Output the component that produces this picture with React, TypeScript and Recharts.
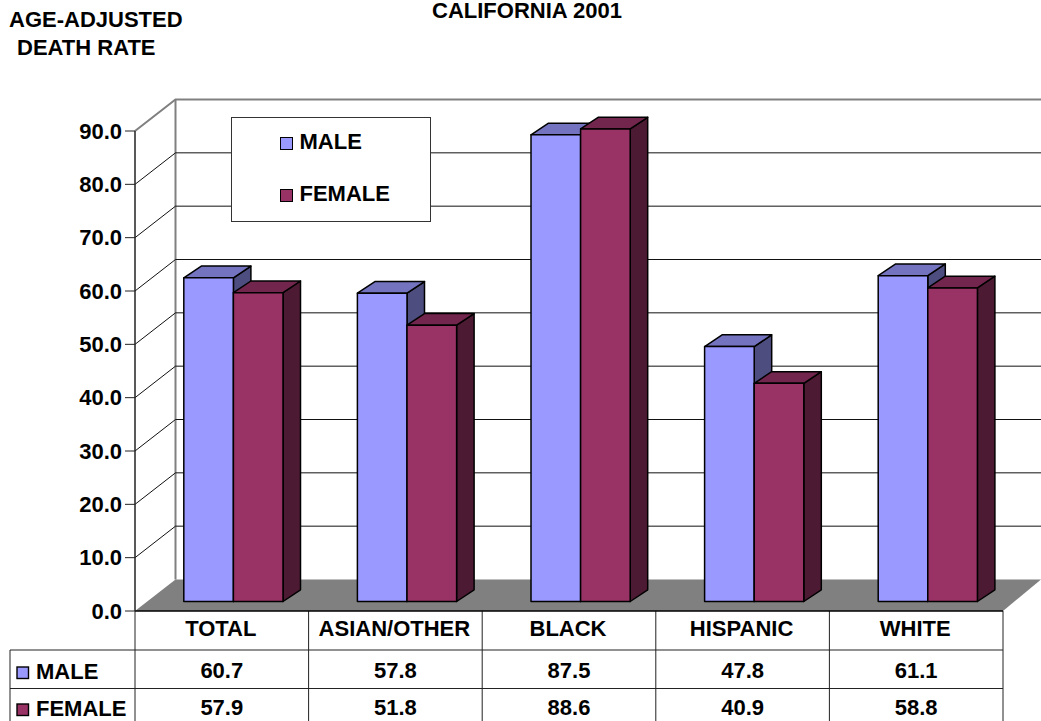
import React from "react";
import { BarChart, Bar, XAxis, YAxis, CartesianGrid, Legend } from "recharts";

const categories = ["TOTAL", "ASIAN/OTHER", "BLACK", "HISPANIC", "WHITE"];
const maleValues = [60.7, 57.8, 87.5, 47.8, 61.1];
const femaleValues = [57.9, 51.8, 88.6, 40.9, 58.8];
const yTicks = [0, 10, 20, 30, 40, 50, 60, 70, 80, 90];
const maleName = "MALE";
const femaleName = "FEMALE";
const titleText = "CALIFORNIA 2001";
const yTitleLines = ["AGE-ADJUSTED", "DEATH RATE"];

const data = categories.map((name, i) => ({ name, male: maleValues[i], female: femaleValues[i] }));

const W = 1041;
const H = 721;
const FONT = "'Liberation Sans', Arial, sans-serif";
const FS = 22;
const LEFT = 135;
const RIGHT = 1003;
const TOP = 131;
const BOTTOM = 611;
const WALL_DX = 40.5;
const WALL_DY = 31.5;
const BAR_DX = 11.8;
const BAR_DY = 9.5;
const DEPTH_X = 17.5;
const DEPTH_Y = 11.7;

const MALE = { front: "#9999FF", top: "#7373BF", side: "#4D4D80" };
const FEMALE = { front: "#993366", top: "#73264D", side: "#4D1A33" };

function Bar3D(props: any, c: typeof MALE) {
  const { x, y, width, height } = props;
  const l = x + BAR_DX;
  const r = l + width;
  const t = y - BAR_DY;
  const b = t + height;
  const common = { stroke: "#000", strokeWidth: 1.5, strokeLinejoin: "round" as const };
  return (
    <g>
      <polygon points={`${r},${t} ${r + DEPTH_X},${t - DEPTH_Y} ${r + DEPTH_X},${b - DEPTH_Y} ${r},${b}`} fill={c.side} {...common} />
      <polygon points={`${l},${t} ${l + DEPTH_X},${t - DEPTH_Y} ${r + DEPTH_X},${t - DEPTH_Y} ${r},${t}`} fill={c.top} {...common} />
      <rect x={l} y={t} width={width} height={height} fill={c.front} {...common} />
    </g>
  );
}

function WallLine(props: any) {
  const { y1 } = props;
  if (Math.abs(y1 - BOTTOM) < 1 || Math.abs(y1 - TOP) < 1) return <g />;
  return (
    <g stroke="#111" strokeWidth={1}>
      <line x1={LEFT} y1={y1} x2={LEFT + WALL_DX} y2={y1 - WALL_DY} />
      <line x1={LEFT + WALL_DX} y1={y1 - WALL_DY} x2={W} y2={y1 - WALL_DY} />
    </g>
  );
}

function CategoryTick(props: any) {
  const { x, y, index, payload } = props;
  const style = { fontFamily: FONT, fontSize: FS, fontWeight: 700, fill: "#000", textAnchor: "middle" as const };
  return (
    <g>
      <text x={x - 1} y={y + 19} style={style}>{payload.value}</text>
      <text x={x} y={y + 61} style={style}>{maleValues[index].toFixed(1)}</text>
      <text x={x} y={y + 98} style={style}>{femaleValues[index].toFixed(1)}</text>
    </g>
  );
}

function LegendBox(props: any) {
  const payload = props.payload || [];
  return (
    <div style={{ width: 200, height: 105, boxSizing: "border-box", border: "1px solid #333", background: "#fff", position: "relative" }}>
      {payload.map((e: any, i: number) => (
        <div key={e.value} style={{ position: "absolute", left: 48, top: 19 + i * 52, display: "flex", alignItems: "center", height: 13 }}>
          <span style={{ display: "inline-block", width: 11, height: 11, background: e.color, border: "1.5px solid #000", marginRight: 7 }} />
          <span style={{ fontFamily: FONT, fontSize: FS, fontWeight: 700, color: "#000", whiteSpace: "nowrap", position: "relative", top: -2 }}>{e.value}</span>
        </div>
      ))}
    </div>
  );
}

function Backdrop() {
  const step = (RIGHT - LEFT) / categories.length;
  const backL = LEFT + WALL_DX;
  const backB = BOTTOM - WALL_DY;
  const backT = TOP - WALL_DY;
  const labelStyle = { fontFamily: FONT, fontSize: FS, fontWeight: 700, fill: "#000" };
  return (
    <svg width={W} height={H} style={{ position: "absolute", left: 0, top: 0 }}>
      <rect width={W} height={H} fill="#fff" />
      <polygon points={`${LEFT},${BOTTOM} ${backL},${backB} ${W},${backB} ${RIGHT},${BOTTOM}`} fill="#808080" />
      <g stroke="#808080" strokeWidth={2} fill="none">
        <polyline points={`${LEFT},${TOP} ${backL},${backT} ${W},${backT}`} />
        <line x1={backL} y1={backT} x2={backL} y2={backB} />
      </g>
      <g stroke="#222" strokeWidth={1}>
        <line x1={10} y1={650} x2={RIGHT} y2={650} />
        <line x1={10} y1={688.5} x2={RIGHT} y2={688.5} />
        <line x1={10} y1={650} x2={10} y2={H} />
        {categories.map((_, i) => (
          <line key={i} x1={LEFT + i * step} y1={BOTTOM} x2={LEFT + i * step} y2={H} />
        ))}
        <line x1={RIGHT} y1={BOTTOM} x2={RIGHT} y2={H} />
      </g>
      <rect x={17} y={667} width={11.5} height={11.5} fill={MALE.front} stroke="#000" strokeWidth={1.4} />
      <text x={36} y={679} style={labelStyle}>{maleName}</text>
      <rect x={17} y={704} width={11.5} height={11.5} fill={FEMALE.front} stroke="#000" strokeWidth={1.4} />
      <text x={36} y={716} style={labelStyle}>{femaleName}</text>
      <text x={527} y={18} textAnchor="middle" style={labelStyle}>{titleText}</text>
      <text x={9} y={27} style={labelStyle}>{yTitleLines[0]}</text>
      <text x={17} y={55} style={labelStyle}>{yTitleLines[1]}</text>
    </svg>
  );
}

export default function App() {
  return (
    <div style={{ position: "absolute", left: 0, top: 0, width: W, height: H, overflow: "hidden" }}>
      <Backdrop />
      <div style={{ position: "absolute", left: 0, top: 0 }}>
        <BarChart
          width={W}
          height={H}
          data={data}
          margin={{ top: TOP, right: W - RIGHT, bottom: 0, left: 0 }}
          barGap={0}
          barSize={49.6}
        >
          <CartesianGrid vertical={false} horizontal={WallLine as any} />
          <XAxis
            dataKey="name"
            height={H - BOTTOM}
            interval={0}
            tickLine={false}
            axisLine={{ stroke: "#000", strokeWidth: 1.5 }}
            tick={CategoryTick as any}
            tickMargin={0}
          />
          <YAxis
            width={LEFT}
            domain={[0, 90]}
            ticks={yTicks}
            interval={0}
            tickFormatter={(v: number) => v.toFixed(1)}
            tickSize={10}
            tickMargin={3}
            axisLine={{ stroke: "#222", strokeWidth: 1.5 }}
            tickLine={{ stroke: "#222", strokeWidth: 1 }}
            tick={{ fontFamily: FONT, fontSize: FS, fontWeight: 700, fill: "#000" }}
          />
          <Legend
            layout="vertical"
            align="center"
            verticalAlign="middle"
            itemSorter={null as any}
            content={LegendBox as any}
            wrapperStyle={{ position: "absolute", left: 230.5, top: 117, width: 200, height: 105 }}
          />
          <Bar dataKey="male" name={maleName} fill={MALE.front} isAnimationActive={false} shape={(p: any) => Bar3D(p, MALE)} />
          <Bar dataKey="female" name={femaleName} fill={FEMALE.front} isAnimationActive={false} shape={(p: any) => Bar3D(p, FEMALE)} />
        </BarChart>
      </div>
    </div>
  );
}
